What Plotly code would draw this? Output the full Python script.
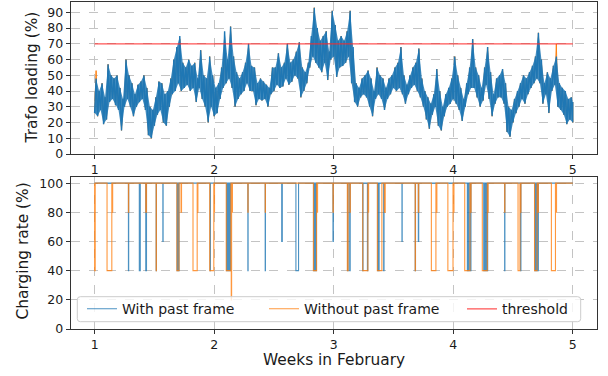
import numpy as np
import plotly.graph_objects as go

# ---------------- data ----------------
week_first, week_last = 1.0, 5.0

# Trafo loading, upper / lower envelope every 0.025 week (1.000 ... 5.000)
loading_hi = [
    48, 40, 45, 36, 57, 50, 48, 50,
    42, 35, 60, 50, 45, 38, 44, 46,
    50, 42, 30, 28, 36, 46, 45, 38,
    40, 48, 60, 68, 75, 58, 55, 60,
    56, 58, 48, 66, 50, 48, 62, 50,
    42, 45, 55, 78, 60, 81, 62, 52,
    48, 52, 58, 70, 56, 55, 45, 48,
    46, 44, 42, 55, 55, 64, 55, 58,
    70, 58, 60, 65, 71, 55, 52, 58,
    75, 93, 80, 72, 75, 78, 65, 91,
    82, 72, 75, 72, 78, 91, 68, 45,
    42, 48, 50, 53, 48, 40, 55, 50,
    48, 42, 48, 50, 55, 58, 68, 50,
    44, 50, 55, 58, 67, 48, 40, 36,
    32, 38, 54, 40, 30, 38, 42, 48,
    62, 50, 42, 35, 45, 55, 73, 55,
    50, 42, 55, 68, 52, 38, 48, 50,
    54, 45, 30, 28, 35, 40, 45, 50,
    48, 52, 56, 62, 77, 60, 45, 52,
    48, 56, 62, 45, 42, 40, 35, 36,
    33,
]
loading_lo = [
    26, 24, 28, 19, 22, 33, 35, 31,
    28, 15, 30, 35, 30, 24, 30, 33,
    35, 28, 12, 10, 18, 25, 28, 20,
    18, 30, 38, 40, 45, 40, 42, 44,
    40, 42, 33, 42, 35, 30, 20, 30,
    24, 26, 35, 42, 45, 48, 42, 30,
    35, 38, 40, 45, 40, 40, 31, 35,
    34, 35, 30, 38, 40, 44, 42, 43,
    48, 44, 46, 50, 48, 36, 40, 45,
    55, 62, 58, 55, 52, 58, 47, 60,
    62, 49, 55, 56, 58, 62, 45, 33,
    30, 36, 38, 36, 30, 24, 35, 38,
    35, 28, 35, 38, 42, 40, 42, 38,
    32, 38, 42, 44, 40, 36, 30, 22,
    16, 25, 30, 18, 15, 24, 30, 32,
    35, 32, 28, 21, 30, 38, 42, 42,
    36, 30, 34, 44, 35, 24, 32, 36,
    36, 32, 14, 11, 20, 26, 30, 35,
    32, 38, 42, 45, 48, 45, 32, 38,
    26, 40, 44, 30, 28, 25, 19, 22,
    20,
]
# where the "without past frame" loading peaks above the other one
without_peak_weeks = [1.000, 1.700, 2.075, 2.800, 3.150, 4.850]
without_peak_values = [53, 73, 63, 70, 65, 70]

threshold_value = 70

# Charging rate: dips away from 100 %
with_dip_start = [1.283, 1.374, 1.428, 1.515, 1.571, 1.690, 1.696, 1.701, 1.966,
                  2.104, 2.112, 2.122, 2.132, 2.282, 2.427, 2.565, 2.684, 2.833,
                  2.842, 2.850, 2.994, 3.117, 3.134, 3.243, 3.282, 3.368, 3.375,
                  3.418, 3.571, 3.682, 3.708, 4.118, 4.127, 4.145, 4.255, 4.265,
                  4.275, 4.284, 4.430, 4.563, 4.683, 4.690, 4.697, 4.709]
with_dip_end = [1.285, 1.382, 1.434, 1.517, 1.573, 1.694, 1.699, 1.706, 1.969,
                2.110, 2.120, 2.130, 2.138, 2.284, 2.429, 2.570, 2.706, 2.840,
                2.848, 2.855, 2.997, 3.120, 3.138, 3.245, 3.285, 3.372, 3.380,
                3.421, 3.573, 3.684, 3.711, 4.124, 4.134, 4.148, 4.262, 4.272,
                4.282, 4.288, 4.432, 4.566, 4.688, 4.695, 4.701, 4.712]
with_dip_level = [40, 40, 40, 40, 60, 40, 40, 40, 40,
                  40, 40, 40, 40, 40, 40, 60, 40, 40,
                  40, 40, 60, 40, 40, 40, 40, 40, 40,
                  40, 60, 40, 60, 40, 40, 40, 40, 40,
                  40, 40, 40, 40, 40, 40, 40, 40]

without_dip_start = [1.000, 1.104, 1.148, 1.283, 1.428, 1.515, 1.688, 1.723, 1.823,
                     1.861, 1.963, 2.000, 2.101, 2.143, 2.150, 2.282, 2.427, 2.830,
                     2.862, 2.994, 3.114, 3.136, 3.243, 3.289, 3.365, 3.424, 3.682,
                     3.708, 3.817, 3.860, 3.955, 4.003, 4.096, 4.146, 4.243, 4.289,
                     4.430, 4.542, 4.563, 4.680, 4.709, 4.821, 4.861]
without_dip_end = [1.005, 1.144, 1.151, 1.285, 1.434, 1.517, 1.706, 1.727, 1.858,
                   1.864, 1.997, 2.003, 2.140, 2.146, 2.153, 2.284, 2.429, 2.857,
                   2.865, 2.997, 3.120, 3.139, 3.286, 3.292, 3.403, 3.431, 3.684,
                   3.711, 3.855, 3.863, 3.998, 4.006, 4.140, 4.149, 4.285, 4.292,
                   4.432, 4.558, 4.566, 4.701, 4.712, 4.855, 4.864]
without_dip_level = [40, 40, 80, 80, 80, 40, 40, 80, 40,
                     80, 40, 80, 40, 20, 80, 80, 80, 40,
                     80, 80, 40, 80, 40, 80, 40, 80, 40,
                     80, 40, 80, 40, 80, 40, 80, 40, 80,
                     80, 40, 80, 40, 80, 40, 80]

x_ticks = [1, 2, 3, 4, 5]
loading_ticks = [0, 10, 20, 30, 40, 50, 60, 70, 80, 90]
rate_ticks = [0, 20, 40, 60, 80, 100]

# ---------------- build series ----------------
n = len(loading_hi)
t = np.linspace(week_first, week_last, n)
half = (t[1] - t[0]) / 2
t_hi = [ti + (half if i < n - 1 else 0) for i, ti in enumerate(t)]


def zigzag(hi, lo):
    xs, ys = [], []
    for i in range(n):
        xs.append(t[i]); ys.append(lo[i])
        xs.append(t_hi[i]); ys.append(hi[i])
    return xs, ys


without_hi = list(loading_hi)
for w, v in zip(without_peak_weeks, without_peak_values):
    without_hi[int(round((w - week_first) / (2 * half)))] = v

bx, by = zigzag(loading_hi, loading_lo)
ox, oy = zigzag(without_hi, loading_lo)


def steps(starts, ends, levels):
    xs, ys = [week_first], [100]
    for s, e, l in zip(starts, ends, levels):
        xs += [s, e]
        ys += [l, 100]
    xs.append(week_last); ys.append(100)
    return xs, ys


wx, wy = steps(with_dip_start, with_dip_end, with_dip_level)
nx, ny = steps(without_dip_start, without_dip_end, without_dip_level)

BLUE = "#1f77b4"
ORANGE = "#ff7f0e"
FONT = "DejaVu Sans"

fig = go.Figure()
fig.add_trace(go.Scatter(x=ox, y=oy, mode="lines", line=dict(color=ORANGE, width=1.0),
                         showlegend=False, xaxis="x", yaxis="y", hoverinfo="skip"))
# dense band of the "with past frame" loading (between its lower and upper swings)
fig.add_trace(go.Scatter(x=list(t), y=loading_lo, mode="lines", line=dict(width=0, color=BLUE),
                         showlegend=False, xaxis="x", yaxis="y", hoverinfo="skip"))
fig.add_trace(go.Scatter(x=t_hi, y=loading_hi, mode="lines", line=dict(width=0, color=BLUE),
                         fill="tonexty", fillcolor="rgba(31,119,180,0.85)",
                         showlegend=False, xaxis="x", yaxis="y", hoverinfo="skip"))
fig.add_trace(go.Scatter(x=bx, y=by, mode="lines", line=dict(color=BLUE, width=1.4),
                         showlegend=False, xaxis="x", yaxis="y", hoverinfo="skip"))
fig.add_trace(go.Scatter(x=[week_first, week_last], y=[threshold_value] * 2, mode="lines",
                         line=dict(color="rgba(255,40,40,0.8)", width=1.2),
                         name="threshold", legend="legend3", xaxis="x", yaxis="y"))
fig.add_trace(go.Scatter(x=wx, y=wy, mode="lines", line=dict(color=BLUE, width=1.1, shape="hv"),
                         opacity=0.8, name="With past frame", legend="legend", xaxis="x2", yaxis="y2"))
fig.add_trace(go.Scatter(x=nx, y=ny, mode="lines", line=dict(color=ORANGE, width=1.1, shape="hv"),
                         opacity=0.8, name="Without past frame", legend="legend2", xaxis="x2", yaxis="y2"))

W, H = 608, 376
xl, xr = 70.7, 596.7
top_t, top_b = 2.0, 154.0
bot_t, bot_b = 177.3, 329.0


def PX(x):
    return x / W


def PY(y):
    return 1 - y / H


axis_common = dict(showline=True, mirror=True, linecolor="#333333", linewidth=1,
                   ticks="outside", ticklen=4, tickcolor="#333333", tickwidth=1,
                   showgrid=True, gridcolor="#c4c4c4", griddash="dash", gridwidth=0.8,
                   zeroline=False, automargin=False,
                   tickfont=dict(family=FONT, size=12.5, color="#1a1a1a"))

legend_common = dict(orientation="h", yanchor="middle", xanchor="left",
                     y=PY(309.2), bgcolor="rgba(0,0,0,0)", borderwidth=0,
                     font=dict(family=FONT, size=14, color="#1a1a1a"))

# rounded legend frame
lx0, lx1, ly0, ly1, r = 77.3, 580.7, 296.7, 321.7, 3.0


def P(x, y):
    return f"{PX(x):.5f},{PY(y):.5f}"


frame_path = (f"M{P(lx0 + r, ly0)} L{P(lx1 - r, ly0)} Q{P(lx1, ly0)} {P(lx1, ly0 + r)} "
              f"L{P(lx1, ly1 - r)} Q{P(lx1, ly1)} {P(lx1 - r, ly1)} L{P(lx0 + r, ly1)} "
              f"Q{P(lx0, ly1)} {P(lx0, ly1 - r)} L{P(lx0, ly0 + r)} Q{P(lx0, ly0)} {P(lx0 + r, ly0)} Z")

fig.update_layout(
    width=W, height=H, margin=dict(l=0, r=0, t=0, b=0),
    paper_bgcolor="white", plot_bgcolor="white",
    font=dict(family=FONT, color="#1a1a1a"),
    xaxis=dict(domain=[PX(xl), PX(xr)], range=[0.8, 5.2], tickvals=x_ticks, anchor="y", **axis_common),
    yaxis=dict(domain=[PY(top_b), PY(top_t)], range=[0, 96.6], tickvals=loading_ticks,
               anchor="x", **axis_common),
    xaxis2=dict(domain=[PX(xl), PX(xr)], range=[0.8, 5.2], tickvals=x_ticks, anchor="y2", **axis_common),
    yaxis2=dict(domain=[PY(bot_b), PY(bot_t)], range=[0, 104], tickvals=rate_ticks,
                anchor="x2", **axis_common),
    legend=dict(x=PX(82), **legend_common),
    legend2=dict(x=PX(264), **legend_common),
    legend3=dict(x=PX(462), **legend_common),
    shapes=[dict(type="path", path=frame_path, xref="paper", yref="paper",
                 fillcolor="rgba(255,255,255,0.8)", line=dict(color="#cccccc", width=1),
                 layer="above")],
    annotations=[
        dict(text="Trafo loading (%)", x=PX(32), y=PY(77.5), xref="paper", yref="paper",
             textangle=-90, showarrow=False, xanchor="center", yanchor="middle",
             font=dict(family=FONT, size=15.4, color="#1a1a1a")),
        dict(text="Charging rate (%)", x=PX(22), y=PY(251.5), xref="paper", yref="paper",
             textangle=-90, showarrow=False, xanchor="center", yanchor="middle",
             font=dict(family=FONT, size=15.4, color="#1a1a1a")),
        dict(text="Weeks in February", x=PX(333.5), y=PY(360), xref="paper", yref="paper",
             showarrow=False, xanchor="center", yanchor="middle",
             font=dict(family=FONT, size=15.4, color="#1a1a1a")),
    ],
)

fig.write_html("out.html", config={"displayModeBar": False},
               post_script="document.body.style.margin='0';")
